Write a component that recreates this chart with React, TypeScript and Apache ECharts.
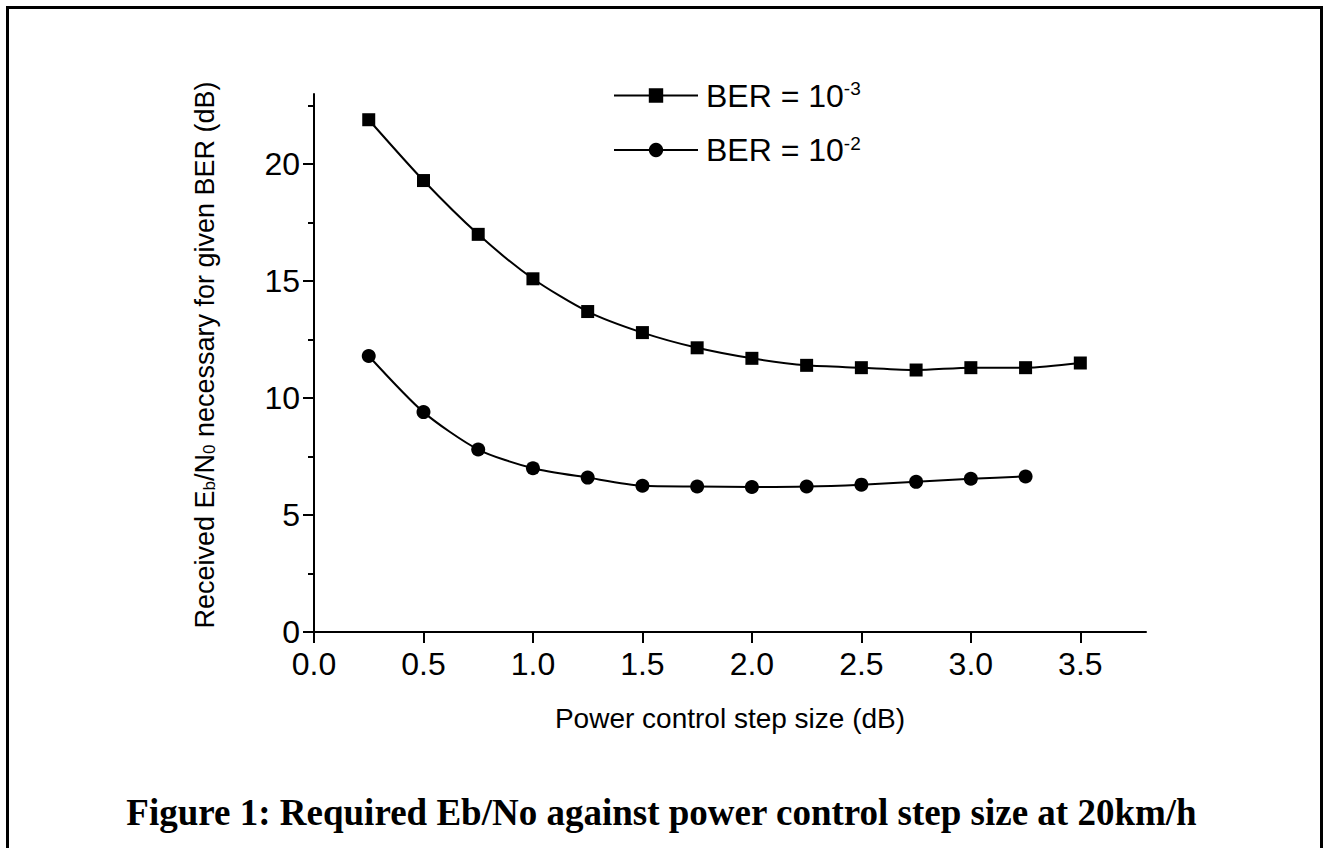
import React, { useEffect, useRef } from "react";
import * as echarts from "echarts";

const stepSizes = [0.25, 0.5, 0.75, 1.0, 1.25, 1.5, 1.75, 2.0, 2.25, 2.5, 2.75, 3.0, 3.25, 3.5];
const ber3Values = [21.9, 19.3, 17.0, 15.1, 13.7, 12.8, 12.15, 11.7, 11.4, 11.3, 11.2, 11.3, 11.3, 11.5];
const ber2Values = [11.8, 9.4, 7.8, 7.0, 6.6, 6.25, 6.22, 6.2, 6.22, 6.3, 6.42, 6.55, 6.65];
const xTicks = [0, 0.5, 1.0, 1.5, 2.0, 2.5, 3.0, 3.5];
const yMajorTicks = [0, 5, 10, 15, 20];
const yMinorTicks = [2.5, 7.5, 12.5, 17.5, 22.5];
const seriesNames = ["BER = 10^-3", "BER = 10^-2"];
const caption = "Figure 1: Required Eb/No against power control step size at 20km/h";

const FONT = "Liberation Sans";

export default function App() {
  const ref = useRef<HTMLDivElement>(null);
  useEffect(() => {
    document.body.style.margin = "0";
    const chart = echarts.init(ref.current!, null, { renderer: "svg" });
    const pairs = (vals: number[]) => vals.map((v, i) => [stepSizes[i], v]);
    chart.setOption({
      animation: false,
      backgroundColor: "#fff",
      title: {
        text: caption,
        left: "center",
        top: 789,
        textStyle: { fontFamily: "Liberation Serif", fontWeight: "bold", fontSize: 37, color: "#000" },
      },
      graphic: [
        {
          type: "rect",
          shape: { x: 7.5, y: 7.5, width: 1314, height: 860 },
          style: { fill: "none", stroke: "#000", lineWidth: 3 },
          silent: true,
        },
      ],
      legend: {
        orient: "vertical",
        left: 608,
        top: 74,
        itemWidth: 84,
        itemHeight: 18,
        itemGap: 22,
        data: seriesNames,
        formatter: (name: string) => {
          const parts = name.split("^");
          return parts[0] + "{sup|" + parts[1] + "}";
        },
        textStyle: {
          fontFamily: FONT,
          fontSize: 32,
          color: "#000",
          padding: [0, 0, 0, 3],
          rich: {
            sup: { fontFamily: FONT, fontSize: 19, verticalAlign: "top", padding: [0, 0, 14, 0], color: "#000" },
          },
        },
      },
      grid: { left: 314, right: 177, top: 94, bottom: 216, containLabel: false },
      xAxis: {
        type: "value",
        min: 0,
        max: 3.8,
        name: "Power control step size (dB)",
        nameLocation: "middle",
        nameGap: 72,
        nameTextStyle: { fontFamily: FONT, fontSize: 28, color: "#000" },
        axisLine: { show: true, lineStyle: { color: "#000", width: 2 } },
        axisTick: { show: true, length: 11, customValues: xTicks, lineStyle: { color: "#000", width: 2 } },
        axisLabel: {
          customValues: xTicks,
          formatter: (v: number) => v.toFixed(1),
          fontFamily: FONT,
          fontSize: 32,
          color: "#000",
          margin: 16,
        },
        splitLine: { show: false },
      },
      yAxis: [
        {
          type: "value",
          min: 0,
          max: 23,
          position: "left",
          name: "Received E{sub|b}/N{sub|0} necessary for given BER (dB)",
          nameLocation: "middle",
          nameGap: 96,
          nameTextStyle: {
            fontFamily: FONT,
            fontSize: 27,
            color: "#000",
            padding: [0, 0, 0, 16],
            rich: {
              sub: { fontFamily: FONT, fontSize: 17, color: "#000", verticalAlign: "bottom", padding: [10, 0, 0, 0] },
            },
          },
          axisLine: { show: true, lineStyle: { color: "#000", width: 2 } },
          axisTick: { show: true, length: 11, customValues: yMajorTicks, lineStyle: { color: "#000", width: 2 } },
          axisLabel: {
            customValues: yMajorTicks,
            fontFamily: FONT,
            fontSize: 32,
            color: "#000",
            margin: 14,
          },
          splitLine: { show: false },
        },
        {
          type: "value",
          min: 0,
          max: 23,
          position: "left",
          axisLine: { show: false },
          axisTick: { show: true, length: 6, customValues: yMinorTicks, lineStyle: { color: "#000", width: 2 } },
          axisLabel: { show: false },
          splitLine: { show: false },
        },
      ],
      series: [
        {
          name: seriesNames[0],
          type: "line",
          data: pairs(ber3Values),
          smooth: 0.25,
          symbol: "rect",
          symbolSize: 13,
          lineStyle: { color: "#000", width: 2 },
          itemStyle: { color: "#000" },
        },
        {
          name: seriesNames[1],
          type: "line",
          data: pairs(ber2Values),
          smooth: 0.25,
          symbol: "circle",
          symbolSize: 14,
          lineStyle: { color: "#000", width: 2 },
          itemStyle: { color: "#000" },
        },
      ],
    });
    return () => chart.dispose();
  }, []);
  return <div ref={ref} style={{ width: 1323, height: 848 }} />;
}
